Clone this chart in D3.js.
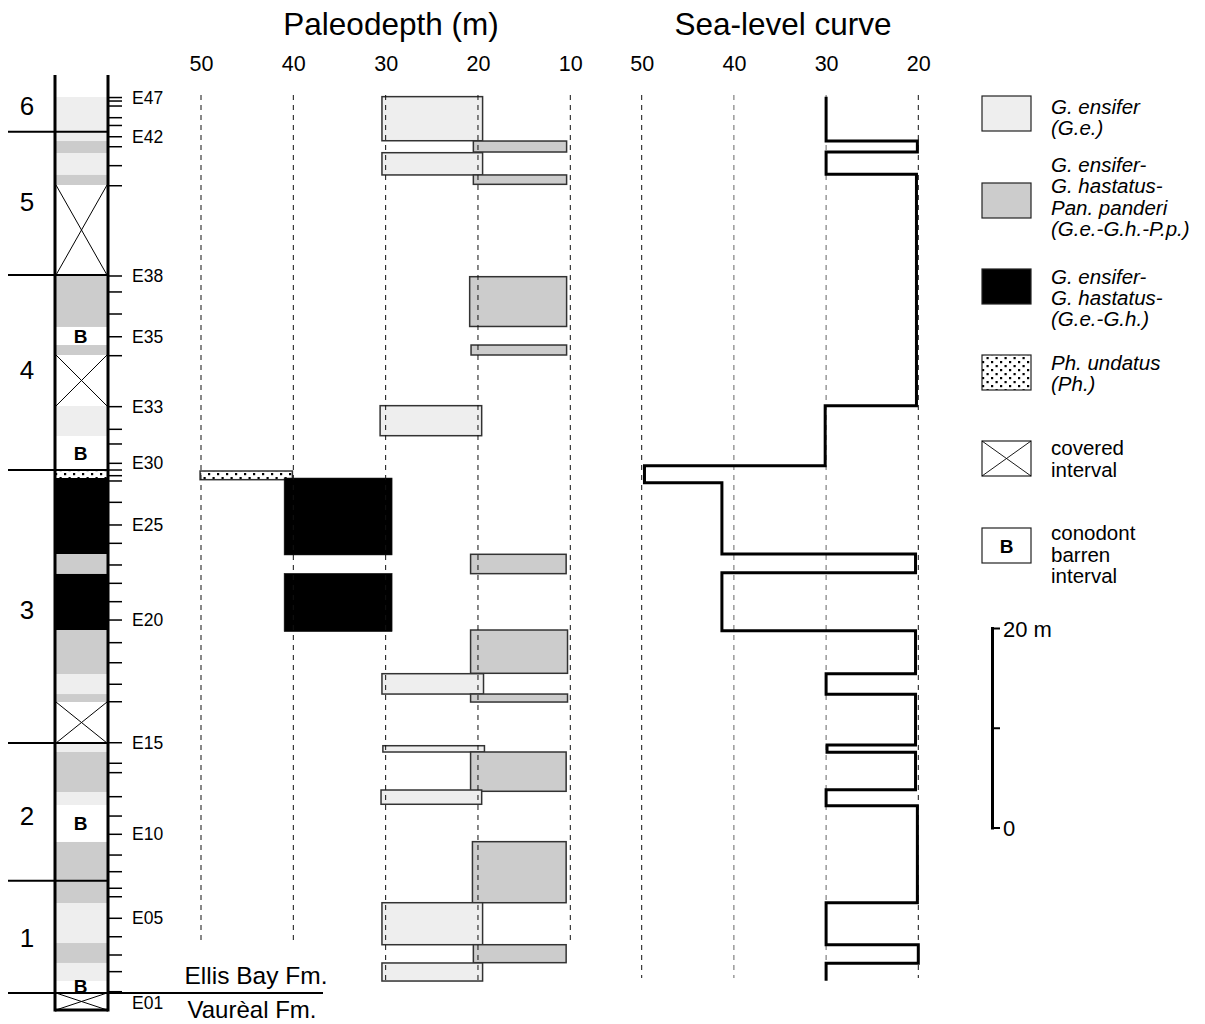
<!DOCTYPE html>
<html><head><meta charset="utf-8">
<script src="https://cdn.jsdelivr.net/npm/d3@7"></script>
<style>
body{margin:0;background:#fff;}
svg{font-family:"Liberation Sans",Arial,Helvetica,sans-serif;}
</style></head>
<body>
<svg id="c" width="1205" height="1024"></svg>
<script>
// ---------- DATA (heights in metres above Ellis Bay base; depths in metres) ----------
const depthTicks = [50, 40, 30, 20, 10];
const seaTicks = [50, 40, 30, 20];

// lithology / biofacies bands in the column: top, bottom (m), type
const bands = [
  {top: 89.82, bottom: 85.41, type: "ge"},
  {top: 85.41, bottom: 84.21, type: "gp"},
  {top: 84.21, bottom: 82.01, type: "ge"},
  {top: 82.01, bottom: 81.00, type: "gp"},
  {top: 81.00, bottom: 71.98, type: "cov"},
  {top: 71.98, bottom: 66.77, type: "gp"},
  {top: 66.77, bottom: 64.96, type: "b"},
  {top: 64.96, bottom: 63.96, type: "gp"},
  {top: 63.96, bottom: 58.85, type: "cov"},
  {top: 58.85, bottom: 55.84, type: "ge"},
  {top: 55.84, bottom: 52.43, type: "b"},
  {top: 52.43, bottom: 51.63, type: "ph"},
  {top: 51.63, bottom: 44.01, type: "gh"},
  {top: 44.01, bottom: 42.01, type: "gp"},
  {top: 42.01, bottom: 36.39, type: "gh"},
  {top: 36.39, bottom: 31.98, type: "gp"},
  {top: 31.98, bottom: 29.97, type: "ge"},
  {top: 29.97, bottom: 29.17, type: "gp"},
  {top: 29.17, bottom: 25.06, type: "cov"},
  {top: 25.06, bottom: 24.16, type: "ge"},
  {top: 24.16, bottom: 20.15, type: "gp"},
  {top: 20.15, bottom: 18.85, type: "ge"},
  {top: 18.85, bottom: 15.14, type: "b"},
  {top: 15.14, bottom: 9.02, type: "gp"},
  {top: 9.02, bottom: 5.01, type: "ge"},
  {top: 5.01, bottom: 3.01, type: "gp"},
  {top: 3.01, bottom: 1.20, type: "ge"},
  {top: 1.20, bottom: 0.00, type: "b"},
  {top: 0.00, bottom: -1.70, type: "cov"}
];

// sample levels E01..E47 (m)
const sampleLevels = [0.13, 2.14, 3.81, 5.64, 7.49, 9.65, 10.50, 12.16, 13.83, 15.91,
  17.74, 19.68, 22.09, 23.03, 25.09, 29.20, 30.95, 33.11, 35.12, 37.39,
  39.23, 41.07, 42.91, 45.08, 46.92, 49.19, 51.33, 51.86, 52.43, 53.10,
  55.04, 56.51, 58.78, 63.89, 65.79, 68.07, 70.28, 71.88, 80.93, 82.94,
  84.84, 85.84, 86.97, 87.75, 88.92, 89.42, 89.77];
const sampleLabels = ["E01", "E05", "E10", "E15", "E20", "E25", "E30", "E33", "E35", "E38", "E42", "E47"];
const sampleLabelIdx = [1, 5, 10, 15, 20, 25, 30, 33, 35, 38, 42, 47];

// unit boundaries (m) and unit labels
const unitBoundaries = [0, 11.26, 25.06, 52.43, 71.98, 86.35];
const unitNames = ["1", "2", "3", "4", "5", "6"];
const unitLabelLevels = [5.6, 17.8, 38.4, 62.5, 79.3, 89.0];

// paleodepth ranges: top, bottom (m), shallow, deep (m), type
const paleoBars = [
  {top: 89.86, bottom: 85.44, shallow: 19.5, deep: 30.4, type: "ge"},
  {top: 85.41, bottom: 84.31, shallow: 10.4, deep: 20.5, type: "gp"},
  {top: 84.24, bottom: 82.01, shallow: 19.5, deep: 30.4, type: "ge"},
  {top: 82.01, bottom: 81.07, shallow: 10.4, deep: 20.5, type: "gp"},
  {top: 71.81, bottom: 66.82, shallow: 10.4, deep: 20.9, type: "gp"},
  {top: 64.96, bottom: 63.96, shallow: 10.4, deep: 20.75, type: "gp"},
  {top: 58.88, bottom: 55.87, shallow: 19.6, deep: 30.6, type: "ge"},
  {top: 52.33, bottom: 51.46, shallow: 40.1, deep: 50.1, type: "ph"},
  {top: 51.63, bottom: 43.91, shallow: 29.3, deep: 41.0, type: "gh"},
  {top: 43.98, bottom: 42.04, shallow: 10.45, deep: 20.8, type: "gp"},
  {top: 42.08, bottom: 36.22, shallow: 29.3, deep: 41.0, type: "gh"},
  {top: 36.39, bottom: 32.05, shallow: 10.3, deep: 20.8, type: "gp"},
  {top: 32.01, bottom: 29.97, shallow: 19.4, deep: 30.4, type: "ge"},
  {top: 29.97, bottom: 29.17, shallow: 10.3, deep: 20.8, type: "gp"},
  {top: 24.79, bottom: 24.16, shallow: 19.3, deep: 30.3, type: "ge"},
  {top: 24.16, bottom: 20.22, shallow: 10.45, deep: 20.8, type: "gp"},
  {top: 20.35, bottom: 18.92, shallow: 19.6, deep: 30.5, type: "ge"},
  {top: 15.17, bottom: 9.05, shallow: 10.45, deep: 20.6, type: "gp"},
  {top: 9.05, bottom: 4.84, shallow: 19.5, deep: 30.4, type: "ge"},
  {top: 4.84, bottom: 3.04, shallow: 10.45, deep: 20.5, type: "gp"},
  {top: 3.01, bottom: 1.20, shallow: 19.5, deep: 30.4, type: "ge"}
];

// sea-level curve steps: top, bottom (m), sea level (m)
const seaLevel = [
  {top: 89.86, bottom: 85.41, level: 30},
  {top: 85.41, bottom: 84.31, level: 20.1},
  {top: 84.31, bottom: 82.07, level: 30},
  {top: 82.07, bottom: 58.88, level: 20.2},
  {top: 58.88, bottom: 52.86, level: 30.1},
  {top: 52.86, bottom: 51.16, level: 49.7},
  {top: 51.16, bottom: 44.01, level: 41.3},
  {top: 44.01, bottom: 42.14, level: 20.3},
  {top: 42.14, bottom: 36.32, level: 41.3},
  {top: 36.32, bottom: 32.01, level: 20.3},
  {top: 32.01, bottom: 29.94, level: 30},
  {top: 29.94, bottom: 24.86, level: 20.3},
  {top: 24.86, bottom: 24.13, level: 29.9},
  {top: 24.13, bottom: 20.38, level: 20.3},
  {top: 20.38, bottom: 18.78, level: 30},
  {top: 18.78, bottom: 9.05, level: 20.1},
  {top: 9.05, bottom: 4.84, level: 30},
  {top: 4.84, bottom: 2.98, level: 20.0},
  {top: 2.98, bottom: 1.23, level: 30}
];

const legendTypes = ["ge", "gp", "gh", "ph", "cov", "b"];
const legendTexts = [
  ["G. ensifer", "(G.e.)"],
  ["G. ensifer-", "G. hastatus-", "Pan. panderi", "(G.e.-G.h.-P.p.)"],
  ["G. ensifer-", "G. hastatus-", "(G.e.-G.h.)"],
  ["Ph. undatus", "(Ph.)"],
  ["covered", "interval"],
  ["conodont", "barren", "interval"]
];
const legendItalic = [true, true, true, true, false, false];

const scaleBarValues = [0, 10, 20];

// ---------- DRAWING ----------
const svg = d3.select("#c");
const fills = {ge: "#eeeeee", gp: "#cccccc", gh: "#000000", ph: "url(#dots)", cov: "#ffffff", b: "#ffffff"};

const defs = svg.append("defs");
const pat = defs.append("pattern").attr("id", "dots").attr("patternUnits", "userSpaceOnUse")
  .attr("width", 9).attr("height", 8);
pat.append("rect").attr("width", 9).attr("height", 8).attr("fill", "#fff");
pat.append("rect").attr("x", 1).attr("y", 1).attr("width", 2.2).attr("height", 2.2).attr("fill", "#000");
pat.append("rect").attr("x", 5.5).attr("y", 5).attr("width", 2.2).attr("height", 2.2).attr("fill", "#000");

const y = d3.scaleLinear().domain([0, 20]).range([993, 793.5]);
const colL = 55, colR = 108;

// column bands
const cg = svg.append("g");
bands.forEach(b => {
  const y0 = y(b.top), y1 = y(b.bottom);
  cg.append("rect").attr("x", colL).attr("y", y0).attr("width", colR - colL).attr("height", y1 - y0)
    .attr("fill", fills[b.type]);
  if (b.type === "cov") {
    cg.append("line").attr("x1", colL + 1).attr("y1", y0).attr("x2", colR - 1).attr("y2", y1).attr("stroke", "#000").attr("stroke-width", 1);
    cg.append("line").attr("x1", colR - 1).attr("y1", y0).attr("x2", colL + 1).attr("y2", y1).attr("stroke", "#000").attr("stroke-width", 1);
  }
  if (b.type === "b") {
    cg.append("text").attr("x", (colL + colR) / 2 - 1).attr("y", Math.min((y0 + y1) / 2 + 7, y1 - 0.5))
      .attr("text-anchor", "middle").attr("font-weight", "bold").attr("font-size", 19).text("B");
  }
});
// column sides
const colTop = 75, colBottom = y(-1.70);
cg.append("line").attr("x1", colL).attr("x2", colL).attr("y1", colTop).attr("y2", colBottom + 1.5).attr("stroke", "#000").attr("stroke-width", 3);
cg.append("line").attr("x1", colR).attr("x2", colR).attr("y1", colTop).attr("y2", colBottom + 1.5).attr("stroke", "#000").attr("stroke-width", 3);
cg.append("line").attr("x1", colL).attr("x2", colR).attr("y1", colBottom).attr("y2", colBottom).attr("stroke", "#000").attr("stroke-width", 3);

// sample ticks and labels
sampleLevels.forEach(m => {
  cg.append("line").attr("x1", colR).attr("x2", 122).attr("y1", y(m)).attr("y2", y(m)).attr("stroke", "#000").attr("stroke-width", 1.5);
});
sampleLabels.forEach((lab, i) => {
  const m = sampleLevels[sampleLabelIdx[i] - 1];
  const shift = lab === "E01" ? 11 : 0;   // E01 label sits below the formation boundary
  cg.append("text").attr("x", 132).attr("y", y(m) + 6 + shift).attr("font-size", 17.5).text(lab);
});

// unit boundaries and names
unitBoundaries.forEach(m => {
  cg.append("line").attr("x1", 8).attr("x2", m === 0 ? 323 : colR).attr("y1", y(m)).attr("y2", y(m))
    .attr("stroke", "#000").attr("stroke-width", 2);
});
unitNames.forEach((n, i) => {
  cg.append("text").attr("x", 27).attr("y", y(unitLabelLevels[i]) + 9.5).attr("text-anchor", "middle")
    .attr("font-size", 26).text(n);
});

// formation labels
svg.append("text").attr("x", 256).attr("y", 984).attr("text-anchor", "middle").attr("font-size", 24.5).text("Ellis Bay Fm.");
svg.append("text").attr("x", 252).attr("y", 1018).attr("text-anchor", "middle").attr("font-size", 24).text("Vaurèal Fm.");

// ---------- Paleodepth panel ----------
const xP = d3.scaleLinear().domain([50, 10]).range([201, 570.3]);
const pg = svg.append("g");
paleoBars.forEach(b => {
  const y0 = y(b.top), y1 = y(b.bottom);
  pg.append("rect").attr("x", xP(b.deep)).attr("y", y0).attr("width", xP(b.shallow) - xP(b.deep)).attr("height", y1 - y0)
    .attr("fill", fills[b.type]).attr("stroke", b.type === "gh" ? "#222" : "#333").attr("stroke-width", b.type === "gh" ? 0.5 : 1.5);
});
const fullDepthLines = [30, 20];
depthTicks.forEach(d => {
  pg.append("line").attr("x1", xP(d)).attr("x2", xP(d)).attr("y1", 95)
    .attr("y2", fullDepthLines.includes(d) ? 980 : 945)
    .attr("stroke", "#111").attr("stroke-width", 1).attr("stroke-dasharray", "5,5");
});
const axP = svg.append("g").attr("transform", "translate(0,71)")
  .call(d3.axisTop(xP).tickValues(depthTicks).tickSize(0).tickPadding(0));
axP.select(".domain").remove();
axP.selectAll("text").attr("font-size", 21.5).attr("font-family", "Liberation Sans, Arial, sans-serif").attr("fill", "#000");
svg.append("text").attr("x", 391).attr("y", 35).attr("text-anchor", "middle").attr("font-size", 31.5).text("Paleodepth (m)");

// ---------- Sea-level panel ----------
const xS = d3.scaleLinear().domain([50, 20]).range([641.7, 918.3]);
const sg = svg.append("g");
seaTicks.forEach(d => {
  sg.append("line").attr("x1", xS(d)).attr("x2", xS(d)).attr("y1", 95).attr("y2", 978)
    .attr("stroke", (d === 40 || d === 30) ? "#666" : "#111").attr("stroke-width", 1).attr("stroke-dasharray", "5,5");
});
const pts = [];
seaLevel.forEach(s => { pts.push([xS(s.level), y(s.top)]); pts.push([xS(s.level), y(s.bottom)]); });
sg.append("path").attr("d", d3.line()(pts)).attr("fill", "none").attr("stroke", "#000").attr("stroke-width", 3)
  .attr("stroke-linejoin", "miter");
const axS = svg.append("g").attr("transform", "translate(0,71)")
  .call(d3.axisTop(xS).tickValues(seaTicks).tickSize(0).tickPadding(0));
axS.select(".domain").remove();
axS.selectAll("text").attr("font-size", 21.5).attr("font-family", "Liberation Sans, Arial, sans-serif").attr("fill", "#000");
svg.append("text").attr("x", 783).attr("y", 35).attr("text-anchor", "middle").attr("font-size", 31.5).text("Sea-level curve");

// ---------- Legend ----------
const legBoxTops = [96, 183, 269, 355, 441, 528];
const lg = svg.append("g");
legendTypes.forEach((t, i) => {
  const by = legBoxTops[i], bw = 49, bh = 35, bx = 982;
  lg.append("rect").attr("x", bx).attr("y", by).attr("width", bw).attr("height", bh)
    .attr("fill", fills[t]).attr("stroke", "#222").attr("stroke-width", 1.2);
  if (t === "cov") {
    lg.append("line").attr("x1", bx).attr("y1", by).attr("x2", bx + bw).attr("y2", by + bh).attr("stroke", "#000").attr("stroke-width", 0.9);
    lg.append("line").attr("x1", bx + bw).attr("y1", by).attr("x2", bx).attr("y2", by + bh).attr("stroke", "#000").attr("stroke-width", 0.9);
  }
  if (t === "b") {
    lg.append("text").attr("x", bx + bw / 2).attr("y", by + bh / 2 + 7).attr("text-anchor", "middle")
      .attr("font-weight", "bold").attr("font-size", 19).text("B");
  }
  const lines = legendTexts[i];
  const firstCenter = [106.7, 165, 276.7, 362.7, 448.3, 533.3][i];
  lines.forEach((s, j) => {
    lg.append("text").attr("x", 1051).attr("y", firstCenter + j * 21.3 + 7).attr("font-size", 20.5)
      .attr("font-style", legendItalic[i] ? "italic" : "normal").text(s);
  });
});

// ---------- Scale bar ----------
const sbx = 992.5, sbBottom = 828;
const sbScale = d3.scaleLinear().domain([0, 20]).range([sbBottom, sbBottom - (y(0) - y(20))]);
svg.append("line").attr("x1", sbx).attr("x2", sbx).attr("y1", sbScale(0) + 1.5).attr("y2", sbScale(20) - 1.5)
  .attr("stroke", "#000").attr("stroke-width", 3);
scaleBarValues.forEach(v => {
  svg.append("line").attr("x1", sbx).attr("x2", 1000).attr("y1", sbScale(v)).attr("y2", sbScale(v))
    .attr("stroke", "#000").attr("stroke-width", 2);
});
svg.append("text").attr("x", 1003).attr("y", sbScale(20) + 8).attr("font-size", 22).text("20 m");
svg.append("text").attr("x", 1003).attr("y", sbScale(0) + 8).attr("font-size", 22).text("0");
</script>
</body></html>
